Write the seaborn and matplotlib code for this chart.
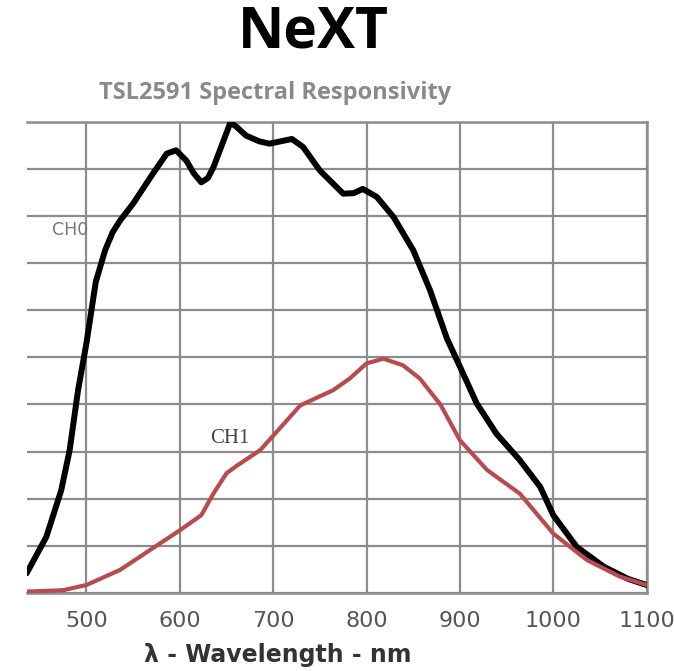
import numpy as np
import pandas as pd
import seaborn as sns
import matplotlib
matplotlib.use("Agg")
import matplotlib.pyplot as plt

# CH0 (black) response
ch0_wl = [436, 457, 473, 482, 491, 500, 510, 520, 528, 536, 550, 571, 586, 596,
          607, 615, 623, 630, 636, 645, 654, 660, 671, 685, 696, 708, 720, 732,
          750, 775, 786, 796, 811, 829, 850, 868, 886, 900, 918, 939, 964, 986,
          1000, 1025, 1054, 1080, 1100]
ch0_val = [0.042, 0.119, 0.218, 0.303, 0.43, 0.53, 0.66, 0.727, 0.765, 0.79,
           0.826, 0.889, 0.932, 0.939, 0.917, 0.89, 0.871, 0.88, 0.903, 0.95,
           0.997, 0.99, 0.970, 0.958, 0.953, 0.958, 0.963, 0.946, 0.896, 0.847,
           0.848, 0.857, 0.840, 0.797, 0.727, 0.642, 0.54, 0.48, 0.402, 0.338,
           0.282, 0.225, 0.165, 0.098, 0.056, 0.03, 0.017]

# CH1 (red) response
ch1_wl = [436, 475, 500, 536, 571, 600, 623, 636, 650, 661, 686, 702, 729, 764,
          782, 800, 818, 839, 857, 879, 900, 929, 964, 1000, 1036, 1071, 1100]
ch1_val = [0.003, 0.006, 0.017, 0.049, 0.095, 0.133, 0.165, 0.211, 0.254, 0.27,
           0.303, 0.338, 0.398, 0.430, 0.455, 0.487, 0.497, 0.483, 0.455, 0.40,
           0.324, 0.261, 0.211, 0.126, 0.070, 0.035, 0.017]

x_ticks = [500, 600, 700, 800, 900, 1000, 1100]

sns.set_style("white")
plt.rcParams['font.family'] = ['DejaVu Sans']

fig = plt.figure(figsize=(6.74, 6.71), dpi=100)
ax = fig.add_axes([0.0396, 0.1162, 0.9199, 0.7027])

grid_col = "#8c8c8c"

ch0 = pd.DataFrame({"wl": ch0_wl, "val": ch0_val})
ch1 = pd.DataFrame({"wl": ch1_wl, "val": ch1_val})
sns.lineplot(data=ch0, x="wl", y="val", ax=ax, color="black", linewidth=4.3,
             estimator=None, sort=False, zorder=3)
sns.lineplot(data=ch1, x="wl", y="val", ax=ax, color="#b84a50", linewidth=3.0,
             estimator=None, sort=False, zorder=4)
for line in ax.lines:
    line.set_solid_joinstyle("round")
    line.set_solid_capstyle("round")

ax.set_xlim(436, 1100)
ax.set_ylim(0, 1)
ax.set_xticks(x_ticks)
ax.set_yticks(np.arange(0, 1.01, 0.1))
ax.set_yticklabels([])
ax.grid(True, color=grid_col, linewidth=1.6)
ax.tick_params(axis="x", length=0, pad=13, labelsize=16, labelcolor="#555555")
ax.tick_params(axis="y", length=0)
ax.set_xlabel("")
ax.set_ylabel("")
for side in ["top", "right", "bottom"]:
    ax.spines[side].set_color(grid_col)
    ax.spines[side].set_linewidth(1.8)
ax.spines["left"].set_visible(False)

ax.text(482, 0.769, "CH0", color="#777777", fontsize=12.5, ha="center", va="center")
ax.text(654, 0.328, "CH1", color="#444444", fontsize=15, ha="center", va="center",
        family=["Liberation Serif", "DejaVu Serif"])

fig.text(313 / 674, 1 - 33 / 671, "NeXT", fontsize=41, fontweight="bold",
         family=["Open Sans", "DejaVu Sans"], ha="center", va="center", color="black")
fig.text(275 / 674, 1 - 93 / 671, "TSL2591 Spectral Responsivity", fontsize=17,
         fontweight="bold", family=["Open Sans", "DejaVu Sans"], ha="center",
         va="center", color="#8a8a8a")
fig.text(278 / 674, 1 - 655 / 671, "λ - Wavelength - nm", fontsize=17,
         fontweight="bold", ha="center", va="center", color="#333333")

fig.savefig("out.png", dpi=100)
